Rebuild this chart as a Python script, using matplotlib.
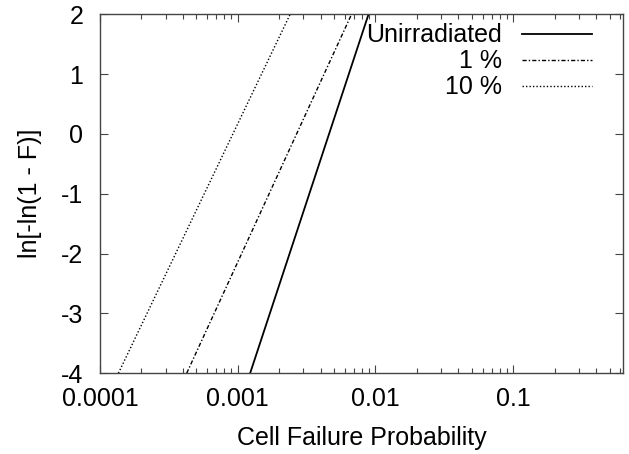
import matplotlib
matplotlib.use("Agg")
import matplotlib.pyplot as plt
from matplotlib.ticker import LogLocator, FixedLocator, NullFormatter

plt.rcParams['font.family'] = ['Liberation Sans', 'DejaVu Sans']
plt.rcParams['axes.unicode_minus'] = False

# y-values at the ends of each line (ln[-ln(1-F)])
y_ends = [-4, 2]

# cell failure probability at y = -4 and y = 2
f_unirr = [1.23e-3, 8.9e-3]
f_1pct = [4.26e-4, 6.7e-3]
f_10pct = [1.36e-4, 2.40e-3]

x_ticks = [0.0001, 0.001, 0.01, 0.1]
x_tick_labels = ["0.0001", "0.001", "0.01", "0.1"]
y_ticks = [-4, -3, -2, -1, 0, 1, 2]

fig = plt.figure(figsize=(6.29, 4.54), dpi=100)
ax = fig.add_axes([0.159, 0.178, 0.832, 0.7905])

ax.plot(f_unirr, y_ends, color="black", lw=1.3, label="Unirradiated")
ax.plot(f_1pct, y_ends, color="black", lw=1.0, dashes=(3, 1.5, 1, 1.5), label="1 %")
ax.plot(f_10pct, y_ends, color="black", lw=1.0, dashes=(1, 1.5), label="10 %")

ax.set_xscale("log")
ax.set_xlim(0.0001, 0.63)
ax.set_ylim(-4, 2)

ax.xaxis.set_major_locator(FixedLocator(x_ticks))
ax.set_xticklabels(x_tick_labels)
ax.xaxis.set_minor_locator(LogLocator(base=10, subs=range(2, 10)))
ax.xaxis.set_minor_formatter(NullFormatter())
ax.set_yticks(y_ticks)

ax.tick_params(which="both", direction="in", top=True, right=True, labelsize=18, color="#444444")
ax.tick_params(which="major", length=6, width=0.8)
ax.tick_params(which="minor", length=3.5, width=0.8)
ax.tick_params(axis="y", pad=12)
ax.tick_params(axis="x", pad=10)
for s in ax.spines.values():
    s.set_color("#444444")
    s.set_linewidth(1.0)

ax.set_xlabel("Cell Failure Probability", fontsize=18, labelpad=11)
ax.set_ylabel("ln[-ln(1 - F)]", fontsize=18, labelpad=14)

ax.legend(loc="upper right", bbox_to_anchor=(0.94, 0.975), frameon=False,
          markerfirst=False, fontsize=18, handlelength=2.8, handletextpad=0.8,
          labelspacing=0.08, borderpad=0, borderaxespad=0)

fig.savefig("out.png", dpi=100)
